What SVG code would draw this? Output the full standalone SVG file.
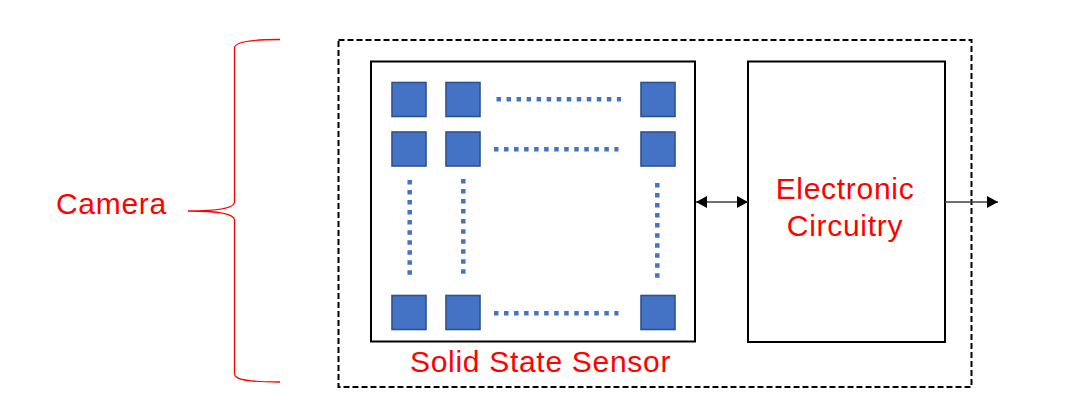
<svg xmlns="http://www.w3.org/2000/svg" width="1071" height="419" viewBox="0 0 1071 419">
  <defs>
    <style>
      .lbl { font-family: "Liberation Sans", Arial, sans-serif; font-size: 30px; fill: #FF0000; letter-spacing: 0.7px; }
      .box { fill: #FFFFFF; stroke: #000000; stroke-width: 2; }
      .px { fill: #4472C4; stroke: #2F528F; stroke-width: 1.6; }
      .dots { stroke: #4472C4; stroke-width: 4.5; stroke-dasharray: 4.5 5.53; fill: none; }
      .conn { stroke: #404040; stroke-width: 1.3; fill: none; }
    </style>
    <marker id="ah" viewBox="0 0 11 12" refX="11" refY="6" markerWidth="11" markerHeight="12" markerUnits="userSpaceOnUse" orient="auto-start-reverse">
      <path d="M0,0 L11,6 L0,12 Z" fill="#000000"/>
    </marker>
  </defs>
  <rect width="1071" height="419" fill="#FFFFFF"/>

  <g id="camera-brace">
    <path d="M280,39.5 C250,39.5 234.5,42 234.5,48 L234.5,202 C234.5,208 220,211 188,211 C220,211 234.5,214 234.5,220 L234.5,374 C234.5,380 250,382 280,382" fill="none" stroke="#FF0000" stroke-width="1.3"/>
    <text class="lbl" x="56" y="214">Camera</text>
  </g>

  <g id="camera-boundary">
    <rect x="338.5" y="40" width="633" height="347" fill="none" stroke="#000000" stroke-width="2" stroke-dasharray="6 3"/>
  </g>

  <g id="solid-state-sensor">
    <rect class="box" x="371" y="61.5" width="324" height="280"/>
    <rect class="px" x="392" y="82.5" width="34" height="34"/>
    <rect class="px" x="446" y="82.5" width="34" height="34"/>
    <rect class="px" x="641" y="82.5" width="34" height="34"/>
    <rect class="px" x="392" y="132" width="34" height="34"/>
    <rect class="px" x="446" y="132" width="34" height="34"/>
    <rect class="px" x="641" y="132" width="34" height="34"/>
    <rect class="px" x="392" y="295.5" width="34" height="34"/>
    <rect class="px" x="446" y="295.5" width="34" height="34"/>
    <rect class="px" x="641" y="295.5" width="34" height="34"/>
    <line class="dots" x1="496.5" y1="99.3" x2="621" y2="99.3"/>
    <line class="dots" x1="494" y1="149.3" x2="618.5" y2="149.3"/>
    <line class="dots" x1="494" y1="313.3" x2="618.5" y2="313.3"/>
    <line class="dots" x1="409.7" y1="180" x2="409.7" y2="274.7"/>
    <line class="dots" x1="463.3" y1="179" x2="463.3" y2="273.7"/>
    <line class="dots" x1="657.3" y1="183" x2="657.3" y2="277.7"/>
    <text class="lbl" x="410" y="372">Solid State Sensor</text>
  </g>

  <g id="electronic-circuitry">
    <rect class="box" x="748" y="61.5" width="197" height="280.5"/>
    <text class="lbl" x="845" y="199" text-anchor="middle">Electronic</text>
    <text class="lbl" x="845" y="236" text-anchor="middle">Circuitry</text>
  </g>

  <g id="connectors">
    <line class="conn" x1="696" y1="202" x2="748" y2="202" marker-start="url(#ah)" marker-end="url(#ah)"/>
    <line class="conn" x1="945" y1="202" x2="998" y2="202" marker-end="url(#ah)"/>
  </g>
</svg>
